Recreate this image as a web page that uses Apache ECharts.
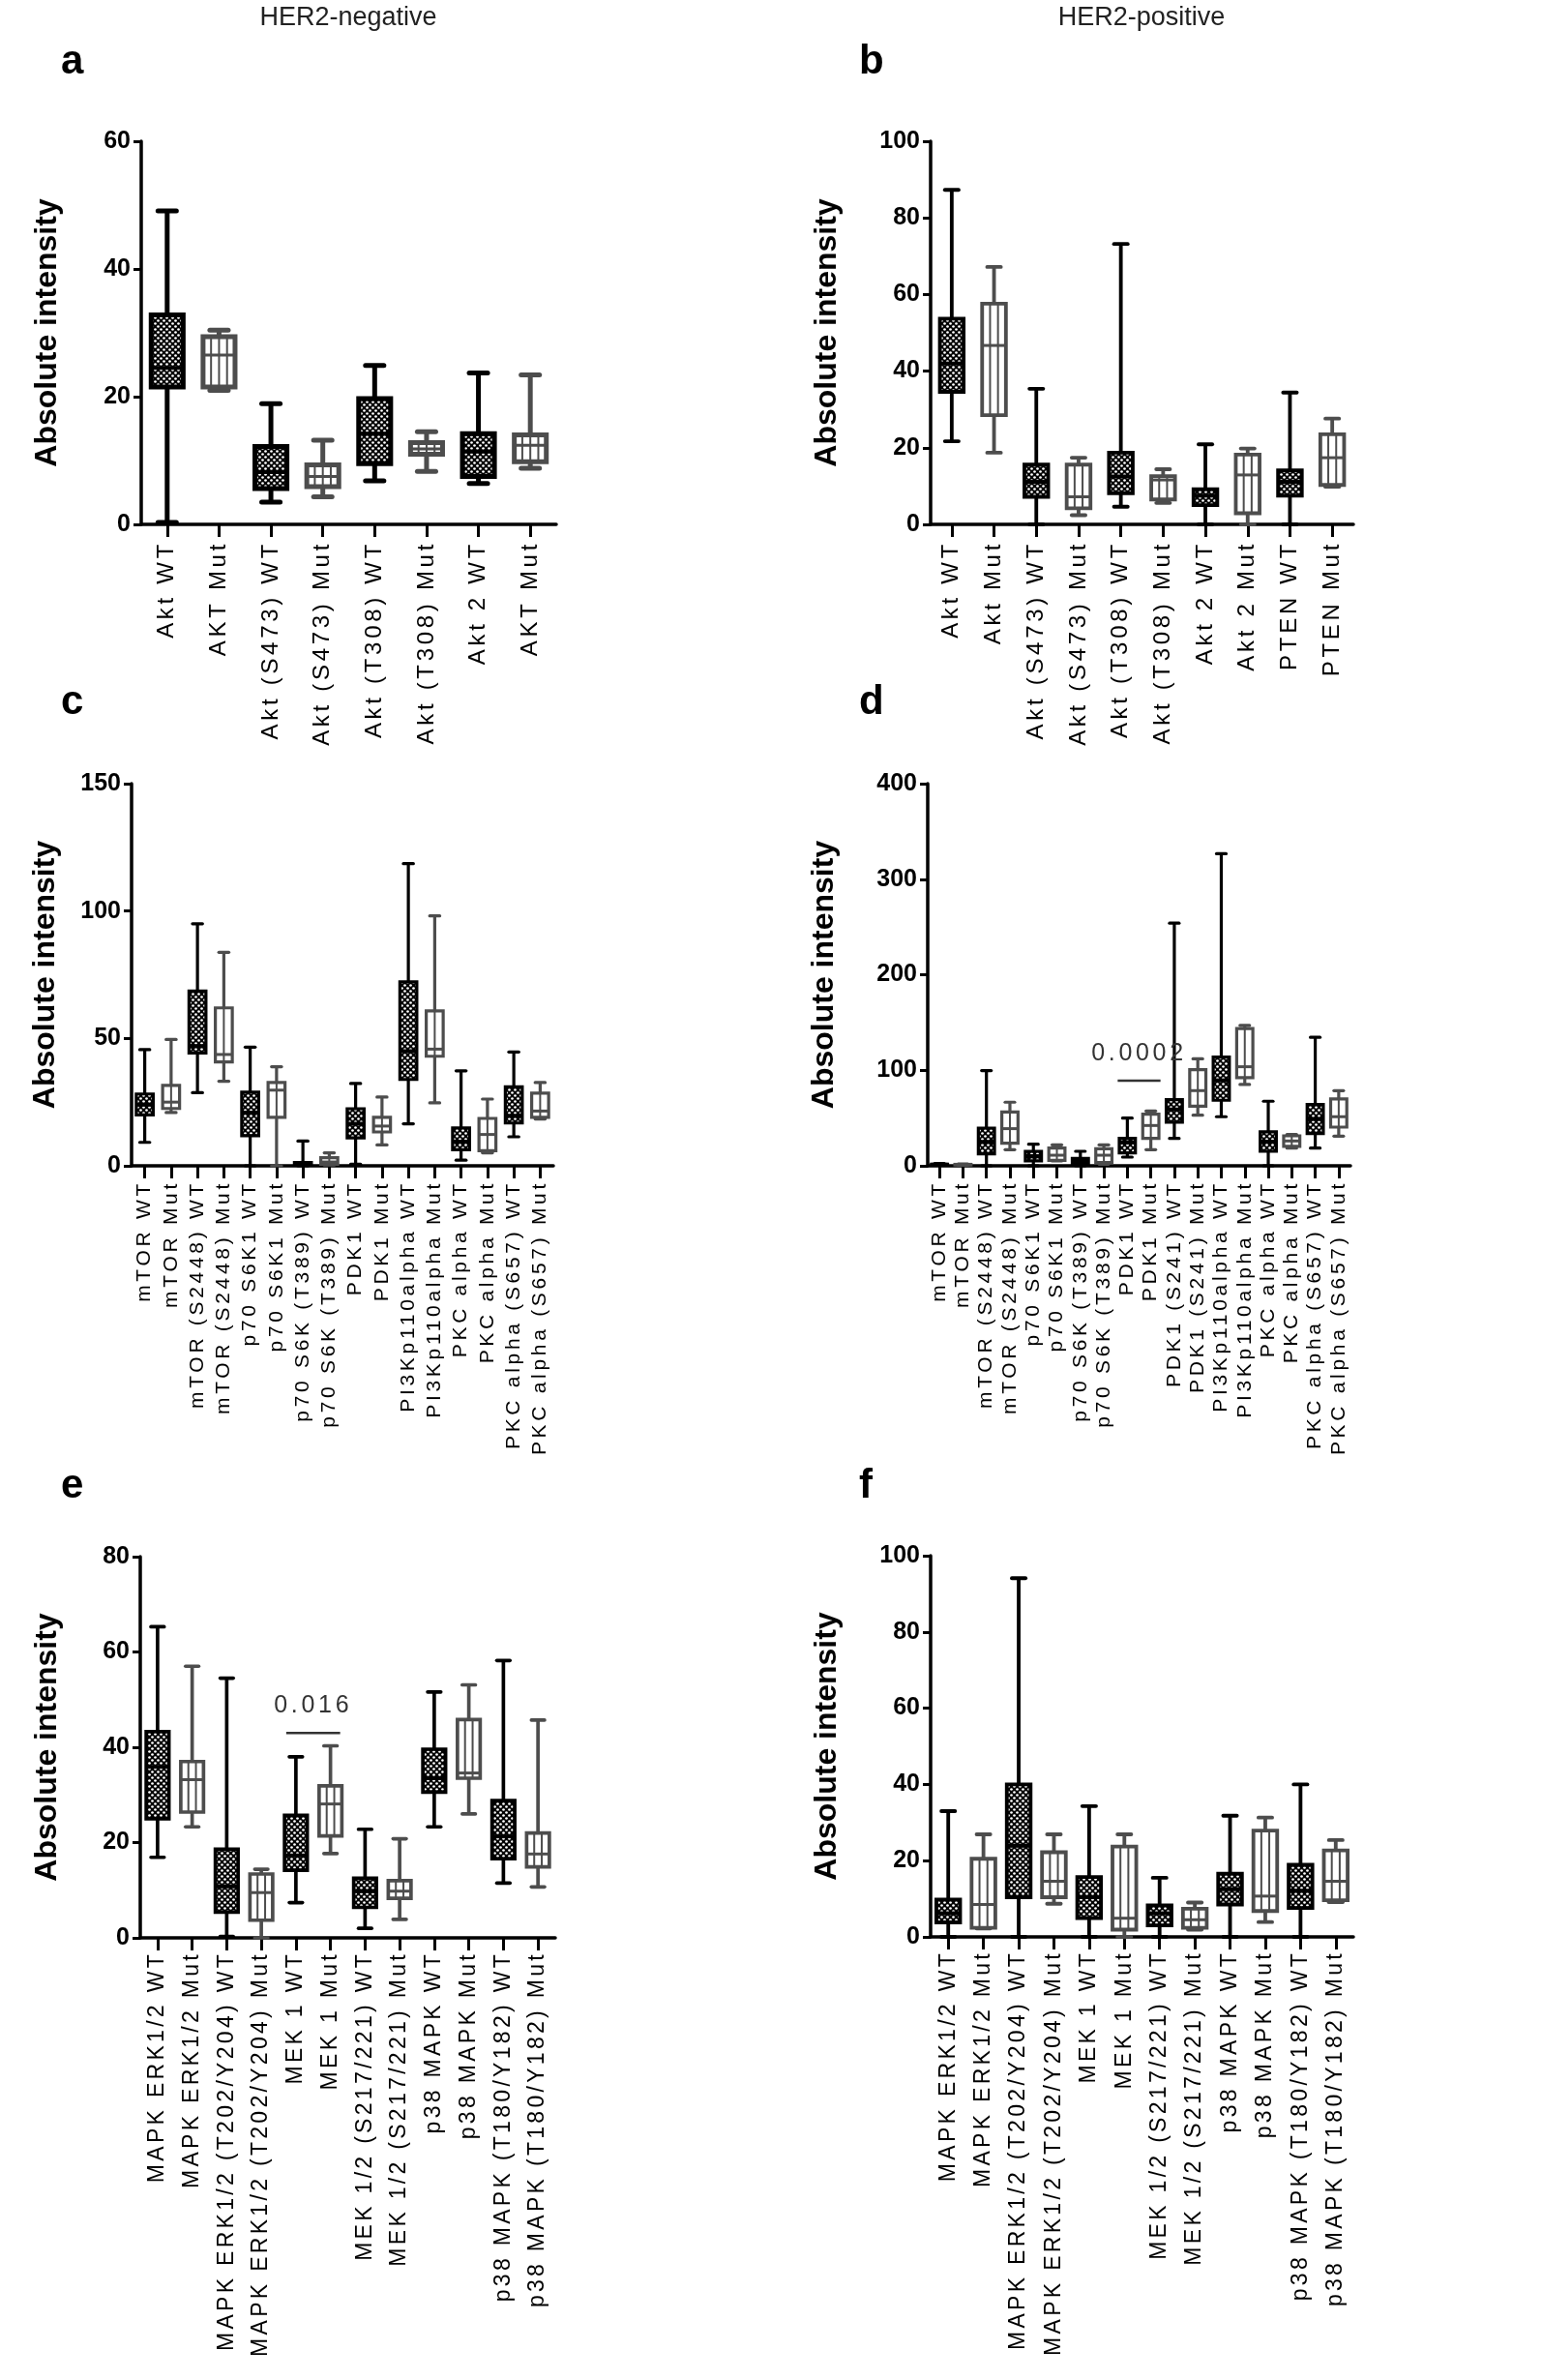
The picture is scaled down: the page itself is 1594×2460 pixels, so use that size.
<!DOCTYPE html>
<html>
<head>
<meta charset="utf-8">
<script src="https://cdn.jsdelivr.net/npm/echarts@6/dist/echarts.min.js"></script>
<style>
html, body { margin: 0; padding: 0; background: #ffffff; }
#chart { width: 1594px; height: 2460px; }
</style>
</head>
<body>
<div id="chart"></div>
<script>
// ---------------- DATA ----------------
// each box: [min, Q1, median, Q3, max]
const catsA = ['Akt WT', 'AKT Mut', 'Akt (S473) WT', 'Akt (S473) Mut', 'Akt (T308) WT', 'Akt (T308) Mut', 'Akt 2 WT', 'AKT Mut'];
const boxA = [
  [0.3, 21.5, 24.5, 32.8, 49.1],
  [21.0, 21.5, 26.5, 29.4, 30.4],
  [3.5, 5.6, 8.2, 12.2, 18.9],
  [4.3, 5.9, 7.5, 9.3, 13.2],
  [6.8, 9.5, 14.2, 19.7, 24.9],
  [8.3, 11.0, 11.8, 12.8, 14.5],
  [6.4, 7.5, 11.4, 14.2, 23.7],
  [8.8, 9.8, 12.4, 14.0, 23.4]
];

const catsB = ['Akt WT', 'Akt Mut', 'Akt (S473) WT', 'Akt (S473) Mut', 'Akt (T308) WT', 'Akt (T308) Mut', 'Akt 2 WT', 'Akt 2 Mut', 'PTEN WT', 'PTEN Mut'];
const boxB = [
  [21.7, 34.6, 42.0, 53.7, 87.3],
  [18.7, 28.5, 46.7, 57.6, 67.2],
  [0, 7.2, 11.1, 15.6, 35.4],
  [2.4, 4.2, 7.2, 15.6, 17.4],
  [4.6, 8.1, 12.5, 18.7, 73.2],
  [5.6, 6.5, 11.6, 12.6, 14.4],
  [0, 5.0, 7.5, 9.2, 20.9],
  [0, 2.9, 12.9, 18.2, 19.8],
  [0, 7.5, 11.1, 14.1, 34.4],
  [9.8, 10.3, 17.4, 23.5, 27.6]
];

const catsC = ['mTOR WT', 'mTOR Mut', 'mTOR (S2448) WT', 'mTOR (S2448) Mut', 'p70 S6K1 WT', 'p70 S6K1 Mut', 'p70 S6K (T389) WT', 'p70 S6K (T389) Mut', 'PDK1 WT', 'PDK1 Mut', 'PI3Kp110alpha WT', 'PI3Kp110alpha Mut', 'PKC alpha WT', 'PKC alpha Mut', 'PKC alpha (S657) WT', 'PKC alpha (S657) Mut'];
const boxC = [
  [9.2, 20.0, 24.0, 28.2, 45.6],
  [20.9, 22.5, 25.0, 31.6, 49.6],
  [28.7, 44.3, 47.0, 68.6, 95.0],
  [33.2, 40.8, 43.7, 62.0, 83.8],
  [0, 11.8, 20.9, 28.9, 46.6],
  [0, 19.0, 29.7, 32.7, 38.9],
  [0, 0.3, 0.6, 1.3, 9.7],
  [0.3, 0.6, 1.5, 3.2, 5.1],
  [0.6, 11.0, 16.5, 22.4, 32.3],
  [8.2, 13.3, 15.6, 19.0, 27.0],
  [16.5, 33.9, 45.0, 72.2, 118.6],
  [24.7, 43.0, 45.8, 60.8, 98.1],
  [2.2, 6.3, 9.5, 14.9, 37.3],
  [5.1, 5.9, 12.3, 18.6, 26.2],
  [11.4, 16.8, 19.6, 31.0, 44.7],
  [18.4, 19.0, 21.5, 28.5, 32.7]
];

const catsD = ['mTOR WT', 'mTOR Mut', 'mTOR (S2448) WT', 'mTOR (S2448) Mut', 'p70 S6K1 WT', 'p70 S6K1 Mut', 'p70 S6K (T389) WT', 'p70 S6K (T389) Mut', 'PDK1 WT', 'PDK1 Mut', 'PDK1 (S241) WT', 'PDK1 (S241) Mut', 'PI3Kp110alpha WT', 'PI3Kp110alpha Mut', 'PKC alpha WT', 'PKC alpha Mut', 'PKC alpha (S657) WT', 'PKC alpha (S657) Mut'];
const boxD = [
  [0.5, 1.0, 1.2, 1.7, 2.4],
  [0.5, 0.9, 1.1, 1.5, 2.0],
  [0, 12.5, 25.0, 39.5, 99.7],
  [16.9, 23.6, 38.9, 56.4, 66.6],
  [0, 5.1, 10.1, 15.2, 22.6],
  [5.1, 5.7, 11.1, 18.6, 22.0],
  [0, 1.7, 4.4, 7.8, 15.2],
  [1.7, 3.4, 11.1, 17.9, 22.0],
  [9.1, 13.5, 24.3, 28.7, 50.0],
  [16.9, 28.7, 42.2, 54.0, 57.4],
  [28.7, 45.6, 59.0, 69.3, 254.0],
  [53.0, 62.5, 78.7, 100.7, 112.0],
  [51.4, 68.6, 89.5, 113.9, 326.7],
  [85.1, 92.2, 103.7, 143.6, 147.0],
  [0, 15.2, 25.3, 35.5, 67.6],
  [18.6, 20.3, 26.0, 31.4, 32.8],
  [18.6, 33.8, 49.0, 64.2, 134.5],
  [31.1, 40.5, 51.4, 70.0, 78.7]
];

const catsE = ['MAPK ERK1/2 WT', 'MAPK ERK1/2 Mut', 'MAPK ERK1/2 (T202/Y204) WT', 'MAPK ERK1/2 (T202/Y204) Mut', 'MEK 1 WT', 'MEK 1 Mut', 'MEK 1/2 (S217/221) WT', 'MEK 1/2 (S217/221) Mut', 'p38 MAPK WT', 'p38 MAPK Mut', 'p38 MAPK (T180/Y182) WT', 'p38 MAPK (T180/Y182) Mut'];
const boxE = [
  [16.9, 25.0, 35.9, 43.3, 65.3],
  [23.3, 26.4, 33.2, 37.0, 57.0],
  [0.3, 5.4, 10.8, 18.6, 54.5],
  [0, 3.7, 9.5, 13.4, 14.4],
  [7.4, 14.2, 17.3, 25.7, 38.0],
  [17.7, 21.4, 28.1, 31.9, 40.3],
  [2.0, 6.4, 9.8, 12.5, 22.8],
  [3.9, 8.3, 9.8, 12.0, 20.8],
  [23.3, 30.6, 33.5, 39.6, 51.6],
  [26.0, 33.5, 34.6, 45.8, 53.1],
  [11.5, 16.6, 21.3, 28.8, 58.2],
  [10.7, 14.9, 17.6, 22.0, 45.7]
];

const catsF = catsE.slice();
const boxF = [
  [0, 3.8, 6.2, 9.8, 33.0],
  [2.2, 2.4, 8.5, 20.5, 26.9],
  [0, 10.4, 23.9, 40.0, 94.1],
  [8.7, 10.4, 14.6, 22.2, 26.9],
  [0, 4.9, 10.4, 15.7, 34.3],
  [0, 1.9, 4.9, 23.7, 26.9],
  [0, 3.0, 6.2, 8.3, 15.5],
  [1.9, 2.4, 4.5, 7.4, 9.0],
  [0, 8.5, 12.5, 16.6, 31.8],
  [3.9, 6.8, 10.7, 27.9, 31.3],
  [0, 7.6, 12.1, 18.9, 40.0],
  [9.1, 9.6, 14.6, 22.7, 25.4]
];

// y axis ranges [max, interval]
const yTicksA = [60, 20];
const yTicksB = [100, 20];
const yTicksC = [150, 50];
const yTicksD = [400, 100];
const yTicksE = [80, 20];
const yTicksF = [100, 20];

// significance annotations: [category index 1, category index 2, bar value]
const sigD = [[8, 9, 89]];
const sigLabelsD = ['0.0002'];
const sigE = [[4, 5, 43]];
const sigLabelsE = ['0.016'];

const colTitles = ['HER2-negative', 'HER2-positive'];
const panelLetters = ['a', 'b', 'c', 'd', 'e', 'f'];
const yName = 'Absolute intensity';

// ---------------- FONTS ----------------
function fontAvailable(name) {
  const ctx = document.createElement('canvas').getContext('2d');
  const s = 'mmmmmmmmmmlli10WQ@#abcxyz';
  for (const base of ['monospace', 'serif']) {
    ctx.font = '60px ' + base;
    const a = ctx.measureText(s).width;
    ctx.font = "60px '" + name + "', " + base;
    const b = ctx.measureText(s).width;
    if (Math.abs(a - b) > 0.5) return true;
  }
  return false;
}
const HAS_NARROW = fontAvailable('Liberation Sans Narrow');
const NARROW = HAS_NARROW ? "'Liberation Sans Narrow', 'Liberation Sans', sans-serif" : "'Liberation Sans', Arial, sans-serif";
const NUM_SIZE = HAS_NARROW ? 27 : 25;
const TITLE_SIZE = HAS_NARROW ? 32 : 27;
const SIG_SIZE = HAS_NARROW ? 30 : 25;
const CAT_FAMILY = "'Liberation Sans', 'Noto Sans', sans-serif"; // category labels
const NAME_FAMILY = "'Liberation Sans', Arial, sans-serif";

// category labels in the source figure are drawn with wide letter spacing
const LS_BY_SIZE = { 24: 3.7, 23: 3.3, 21: 3.7 };
(function () {
  const proto = CanvasRenderingContext2D.prototype;
  const orig = proto.fillText;
  proto.fillText = function (text, x, y, maxW) {
    const f = this.font || '';
    if (f.indexOf('Noto Sans') >= 0 && ('letterSpacing' in this)) {
      const m = f.match(/([\d.]+)px/);
      const ls = m ? LS_BY_SIZE[Math.round(parseFloat(m[1]))] : 0;
      if (ls) {
        const prev = this.letterSpacing;
        this.letterSpacing = ls + 'px';
        const r = maxW === undefined ? orig.call(this, text, x, y) : orig.call(this, text, x, y, maxW);
        this.letterSpacing = prev;
        return r;
      }
    }
    return maxW === undefined ? orig.call(this, text, x, y) : orig.call(this, text, x, y, maxW);
  };
})();

// ---------------- STYLES ----------------
const WT_COLOR = '#000000';
const MUT_COLOR = '#4d4d4d';

function makeDotPattern() {
  const c = document.createElement('canvas');
  c.width = 6; c.height = 6;
  const g = c.getContext('2d');
  g.fillStyle = '#000';
  g.fillRect(0, 0, 6, 6);
  g.fillStyle = '#fff';
  g.beginPath(); g.arc(1.5, 1.5, 1.35, 0, Math.PI * 2); g.fill();
  g.beginPath(); g.arc(4.5, 4.5, 1.35, 0, Math.PI * 2); g.fill();
  return { image: c, repeat: 'repeat' };
}
const DOT_PATTERN = makeDotPattern();

function makeBoxRenderer(cats, frac) {
  return function (params, api) {
    const i = api.value(0);
    const isMut = /Mut$/.test(cats[i]);
    const band = api.size([1, 0])[0];
    const w = band * frac;
    const cx = api.coord([i, 0])[0];
    const yMin = api.coord([i, api.value(1)])[1];
    const yQ1 = api.coord([i, api.value(2)])[1];
    const yMed = api.coord([i, api.value(3)])[1];
    const yQ3 = api.coord([i, api.value(4)])[1];
    const yMax = api.coord([i, api.value(5)])[1];
    const col = isMut ? MUT_COLOR : WT_COLOR;
    const lw = Math.max(3.2, Math.min(5, w * 0.135));
    const capW = w * 0.5;
    const left = cx - w / 2 + lw / 2;
    const right = cx + w / 2 - lw / 2;
    const children = [];
    children.push({ type: 'line', shape: { x1: cx, y1: yMax, x2: cx, y2: yMin }, style: { stroke: col, lineWidth: lw } });
    [yMin, yMax].forEach(function (y) {
      children.push({ type: 'line', shape: { x1: cx - capW / 2, y1: y, x2: cx + capW / 2, y2: y }, style: { stroke: col, lineWidth: lw, lineCap: 'round' } });
    });
    children.push({
      type: 'rect',
      shape: { x: left, y: yQ3, width: right - left, height: Math.max(yQ1 - yQ3, 0.5) },
      style: { fill: isMut ? '#ffffff' : DOT_PATTERN, stroke: col, lineWidth: lw }
    });
    if (isMut) {
      const n = Math.max(2, Math.round(w / 8.5));
      for (let k = 1; k < n; k++) {
        const x = left + (right - left) * k / n;
        children.push({ type: 'line', shape: { x1: x, y1: yQ3, x2: x, y2: yQ1 }, style: { stroke: col, lineWidth: 2 } });
      }
    }
    children.push({ type: 'line', shape: { x1: left, y1: yMed, x2: right, y2: yMed }, style: { stroke: col, lineWidth: isMut ? 3 : 4 } });
    return { type: 'group', children: children };
  };
}

function makeSigRenderer(labels) {
  return function (params, api) {
    const p1 = api.coord([api.value(0), api.value(2)]);
    const p2 = api.coord([api.value(1), api.value(2)]);
    const mid = (p1[0] + p2[0]) / 2;
    return {
      type: 'group',
      children: [
        { type: 'line', shape: { x1: p1[0] - 10, y1: p1[1], x2: p2[0] + 10, y2: p2[1] }, style: { stroke: '#333333', lineWidth: 2.5 } },
        {
          type: 'text', x: mid, y: p1[1] - 16,
          style: {
            text: labels[params.dataIndex], font: SIG_SIZE + 'px ' + NARROW, fill: '#333333',
            align: 'center', verticalAlign: 'bottom', textAlign: 'center', textVerticalAlign: 'bottom'
          }
        }
      ]
    };
  };
}

// ---------------- LAYOUT ----------------
const panels = [
  { cats: catsA, box: boxA, ticks: yTicksA, grid: { left: 146, top: 146, width: 429, height: 396 }, frac: 0.71, catSize: 24, nameGap: 81, labelMargin: 17 },
  { cats: catsB, box: boxB, ticks: yTicksB, grid: { left: 962, top: 146, width: 437, height: 396 }, frac: 0.65, catSize: 24, nameGap: 91, labelMargin: 17 },
  { cats: catsC, box: boxC, ticks: yTicksC, grid: { left: 136, top: 810, width: 436, height: 395 }, frac: 0.76, catSize: 21, nameGap: 73, labelMargin: 15 },
  { cats: catsD, box: boxD, ticks: yTicksD, grid: { left: 959, top: 810, width: 437, height: 395 }, frac: 0.82, catSize: 21, nameGap: 91, labelMargin: 15 },
  { cats: catsE, box: boxE, ticks: yTicksE, grid: { left: 145, top: 1609, width: 429, height: 394 }, frac: 0.76, catSize: 23, nameGap: 80, labelMargin: 14 },
  { cats: catsF, box: boxF, ticks: yTicksF, grid: { left: 962, top: 1608, width: 437, height: 394 }, frac: 0.78, catSize: 23, nameGap: 91, labelMargin: 14 }
];

const grids = [], xAxes = [], yAxes = [], series = [];
panels.forEach(function (p, k) {
  grids.push(Object.assign({ containLabel: false }, p.grid));
  xAxes.push({
    type: 'category', gridIndex: k, data: p.cats, boundaryGap: true,
    axisLine: { show: true, lineStyle: { color: '#000', width: 3.5 } },
    axisTick: { show: true, alignWithLabel: true, length: 13, lineStyle: { color: '#000', width: 3 } },
    axisLabel: {
      interval: 0, rotate: 90, margin: p.labelMargin, hideOverlap: false,
      fontSize: p.catSize, fontFamily: CAT_FAMILY, color: '#000'
    },
    splitLine: { show: false }
  });
  yAxes.push({
    type: 'value', gridIndex: k, min: 0, max: p.ticks[0], interval: p.ticks[1],
    axisLine: { show: true, lineStyle: { color: '#000', width: 3.5 } },
    axisTick: { show: true, length: 8, lineStyle: { color: '#000', width: 3 } },
    axisLabel: { margin: 11, fontSize: NUM_SIZE, fontWeight: 'bold', fontFamily: NARROW, color: '#000' },
    splitLine: { show: false },
    name: yName, nameLocation: 'middle', nameGap: p.nameGap,
    nameTextStyle: { fontSize: 32, fontWeight: 'bold', fontFamily: NAME_FAMILY, color: '#000' }
  });
  series.push({
    type: 'custom', xAxisIndex: k, yAxisIndex: k, clip: false, silent: true,
    renderItem: makeBoxRenderer(p.cats, p.frac),
    encode: { x: 0, y: [1, 2, 3, 4, 5] },
    data: p.box.map(function (b, i) { return [i].concat(b); })
  });
});

series.push({
  type: 'custom', xAxisIndex: 3, yAxisIndex: 3, clip: false, silent: true, z: 5,
  renderItem: makeSigRenderer(sigLabelsD), encode: { x: [0, 1], y: 2 }, data: sigD
});
series.push({
  type: 'custom', xAxisIndex: 4, yAxisIndex: 4, clip: false, silent: true, z: 5,
  renderItem: makeSigRenderer(sigLabelsE), encode: { x: [0, 1], y: 2 }, data: sigE
});

function txt(text, x, y, font, fill, align) {
  return {
    type: 'text', x: x, y: y, silent: true,
    style: { text: text, font: font, fill: fill, align: align, verticalAlign: 'middle', textAlign: align, textVerticalAlign: 'middle' }
  };
}
const letterFont = 'bold 42px ' + NAME_FAMILY;
const titleFont = TITLE_SIZE + 'px ' + NARROW;
const graphics = [
  txt(colTitles[0], 360, 19, titleFont, '#222', 'center'),
  txt(colTitles[1], 1180, 19, titleFont, '#222', 'center'),
  txt(panelLetters[0], 63, 64, letterFont, '#000', 'left'),
  txt(panelLetters[1], 888, 64, letterFont, '#000', 'left'),
  txt(panelLetters[2], 63, 726, letterFont, '#000', 'left'),
  txt(panelLetters[3], 888, 726, letterFont, '#000', 'left'),
  txt(panelLetters[4], 63, 1536, letterFont, '#000', 'left'),
  txt(panelLetters[5], 888, 1536, letterFont, '#000', 'left')
];

const chart = echarts.init(document.getElementById('chart'), null, { renderer: 'canvas', width: 1594, height: 2460 });
chart.setOption({
  backgroundColor: '#ffffff',
  animation: false,
  grid: grids,
  xAxis: xAxes,
  yAxis: yAxes,
  series: series,
  graphic: graphics
});
</script>
</body>
</html>
